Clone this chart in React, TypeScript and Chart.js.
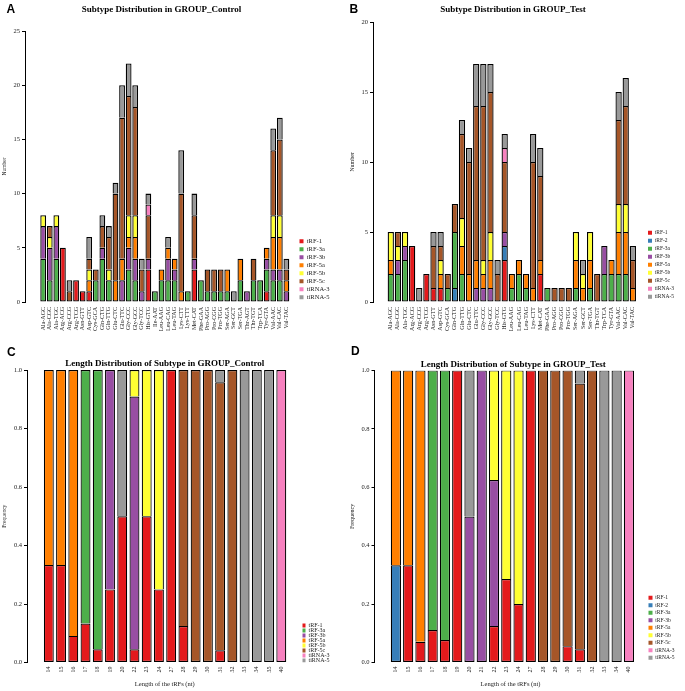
import React, { useEffect, useRef } from 'react';
import { Chart, registerables } from 'chart.js';

Chart.register(...registerables);

const SERIF = "'Liberation Serif', 'Times New Roman', Times, serif";
const SANS = "'Liberation Sans', Arial, Helvetica, sans-serif";

// ---------- subtypes ----------
const subtypeNames = ['tRF-1', 'tRF-2', 'tRF-3a', 'tRF-3b', 'tRF-5a', 'tRF-5b', 'tRF-5c', 'tiRNA-3', 'tiRNA-5'];
const subtypeColors = ['#E41A1C', '#377EB8', '#4DAF4A', '#984EA3', '#FF7F00', '#FFFF33', '#A65628', '#F781BF', '#999999'];

// ---------- Panel A: subtype counts, GROUP_Control ----------
const controlTrnas = ['Ala-AGC', 'Ala-CGC', 'Ala-TGC', 'Arg-ACG', 'Arg-CCG', 'Arg-TCG', 'Asn-GTT', 'Asp-GTC', 'Cys-GCA', 'Gln-CTG',
  'Gln-TTG', 'Glu-CTC', 'Glu-TTC', 'Gly-CCC', 'Gly-GCC', 'Gly-TCC', 'His-GTG', 'Ile-AAT', 'Leu-AAG', 'Leu-CAG',
  'Leu-TAG', 'Lys-CTT', 'Lys-TTT', 'Met-CAT', 'Phe-GAA', 'Pro-AGG', 'Pro-CGG', 'Pro-TGG', 'Ser-AGA', 'Ser-GCT',
  'Ser-TGA', 'Thr-AGT', 'Thr-TGT', 'Trp-TCA', 'Tyr-GTA', 'Val-AAC', 'Val-CAC', 'Val-TAC'];
const ctrlTRF1 = [0, 0, 0, 5, 0, 2, 1, 1, 0, 0, 0, 0, 0, 0, 0, 0, 3, 0, 0, 0, 0, 0, 0, 3, 0, 0, 0, 0, 0, 0, 0, 0, 0, 0, 1, 0, 0, 0];
const ctrlTRF3a = [4, 2, 4, 0, 0, 0, 0, 0, 2, 4, 2, 0, 0, 3, 2, 0, 0, 1, 2, 2, 2, 0, 1, 0, 2, 1, 1, 1, 1, 0, 2, 0, 2, 2, 2, 2, 2, 0];
const ctrlTRF3b = [3, 3, 3, 0, 0, 0, 0, 0, 0, 1, 0, 0, 2, 2, 2, 1, 1, 0, 0, 2, 1, 0, 0, 1, 0, 0, 0, 0, 0, 0, 0, 1, 0, 0, 1, 1, 1, 1];
const ctrlTRF5a = [0, 0, 0, 0, 0, 0, 0, 1, 0, 0, 0, 2, 2, 1, 2, 0, 0, 0, 1, 1, 1, 1, 0, 0, 0, 0, 0, 0, 2, 0, 2, 0, 0, 0, 1, 3, 3, 1];
const ctrlTRF5b = [1, 1, 1, 0, 0, 0, 0, 1, 0, 0, 1, 0, 0, 2, 2, 0, 0, 0, 0, 0, 0, 0, 0, 0, 0, 0, 0, 0, 0, 0, 0, 0, 0, 0, 0, 2, 2, 0];
const ctrlTRF5c = [0, 1, 0, 0, 1, 0, 0, 1, 1, 2, 3, 8, 13, 11, 10, 2, 4, 0, 0, 0, 0, 9, 0, 4, 0, 2, 2, 2, 0, 0, 0, 0, 2, 0, 0, 6, 7, 1];
const ctrlTiRNA3 = [0, 0, 0, 0, 0, 0, 0, 0, 0, 0, 0, 0, 0, 0, 0, 0, 1, 0, 0, 0, 0, 0, 0, 0, 0, 0, 0, 0, 0, 0, 0, 0, 0, 0, 0, 0, 0, 0];
const ctrlTiRNA5 = [0, 0, 0, 0, 1, 0, 0, 2, 0, 1, 1, 1, 3, 3, 2, 1, 1, 0, 0, 1, 0, 4, 0, 2, 0, 0, 0, 0, 0, 1, 0, 0, 0, 0, 0, 2, 2, 1];

// ---------- Panel B: subtype counts, GROUP_Test ----------
const testTrnas = ['Ala-AGC', 'Ala-CGC', 'Ala-TGC', 'Arg-ACG', 'Arg-CCG', 'Arg-TCG', 'Asn-GTT', 'Asp-GTC', 'Cys-GCA', 'Gln-CTG',
  'Gln-TTG', 'Glu-CTC', 'Glu-TTC', 'Gly-CCC', 'Gly-GCC', 'Gly-TCC', 'His-GTG', 'Leu-AAG', 'Leu-CAG', 'Leu-TAG',
  'Lys-CTT', 'Met-CAT', 'Phe-GAA', 'Pro-AGG', 'Pro-CGG', 'Pro-TGG', 'Ser-AGA', 'Ser-GCT', 'Ser-TGA', 'Thr-TGT',
  'Trp-TCA', 'Tyr-GTA', 'Val-AAC', 'Val-CAC', 'Val-TAC'];
const testTRF1 = [0, 0, 0, 4, 0, 2, 1, 1, 0, 0, 0, 0, 0, 0, 0, 0, 3, 0, 0, 0, 0, 2, 0, 0, 0, 0, 0, 0, 0, 0, 0, 0, 0, 0, 0];
const testTRF2 = [0, 0, 0, 0, 0, 0, 0, 0, 0, 1, 0, 0, 0, 0, 0, 0, 1, 0, 0, 0, 0, 0, 0, 0, 0, 0, 0, 0, 0, 0, 0, 0, 0, 0, 0];
const testTRF3a = [2, 2, 3, 0, 0, 0, 0, 0, 1, 4, 2, 0, 0, 0, 0, 0, 0, 1, 2, 1, 0, 0, 1, 0, 0, 0, 1, 0, 1, 0, 2, 2, 2, 2, 0];
const testTRF3b = [0, 1, 1, 0, 0, 0, 0, 0, 0, 0, 0, 0, 1, 1, 1, 0, 1, 0, 0, 0, 0, 0, 0, 0, 0, 0, 0, 0, 0, 0, 2, 0, 0, 0, 0];
const testTRF5a = [1, 0, 0, 0, 0, 0, 0, 1, 0, 0, 2, 2, 2, 1, 2, 0, 0, 1, 1, 1, 1, 1, 0, 0, 0, 0, 2, 1, 2, 0, 0, 1, 3, 3, 1];
const testTRF5b = [2, 1, 1, 0, 0, 0, 0, 1, 0, 0, 2, 0, 0, 1, 2, 0, 0, 0, 0, 0, 0, 0, 0, 0, 0, 0, 2, 1, 2, 0, 0, 0, 2, 2, 0];
const testTRF5c = [0, 1, 0, 0, 0, 0, 3, 1, 1, 2, 6, 8, 11, 11, 10, 2, 5, 0, 0, 0, 9, 6, 0, 1, 1, 1, 0, 0, 0, 2, 0, 0, 6, 7, 2];
const testTiRNA3 = [0, 0, 0, 0, 0, 0, 0, 0, 0, 0, 0, 0, 0, 0, 0, 0, 1, 0, 0, 0, 0, 0, 0, 0, 0, 0, 0, 0, 0, 0, 0, 0, 0, 0, 0];
const testTiRNA5 = [0, 0, 0, 0, 1, 0, 1, 1, 0, 0, 1, 1, 3, 3, 2, 1, 1, 0, 0, 0, 2, 2, 0, 0, 0, 0, 0, 1, 0, 0, 0, 0, 2, 2, 1];

// ---------- Panel C: length distribution, GROUP_Control ----------
const controlLengths = ['14', '15', '16', '17', '18', '19', '20', '22', '23', '24', '27', '28', '29', '30', '31', '32', '33', '34', '35', '40'];
const ctrlLenTRF1 = [0.333, 0.333, 0.091, 0.133, 0.045, 0.25, 0.5, 0.045, 0.5, 0.25, 1, 0.125, 0, 0, 0.042, 0, 0, 0, 0, 0];
const ctrlLenTRF3a = [0, 0, 0, 0.867, 0.955, 0, 0, 0, 0, 0, 0, 0, 0, 0, 0, 0, 0, 0, 0, 0];
const ctrlLenTRF3b = [0, 0, 0, 0, 0, 0.75, 0, 0.864, 0, 0, 0, 0, 0, 0, 0, 0, 0, 0, 0, 0];
const ctrlLenTRF5a = [0.667, 0.667, 0.909, 0, 0, 0, 0, 0, 0, 0, 0, 0, 0, 0, 0, 0, 0, 0, 0, 0];
const ctrlLenTRF5b = [0, 0, 0, 0, 0, 0, 0, 0.091, 0.5, 0.75, 0, 0, 0, 0, 0, 0, 0, 0, 0, 0];
const ctrlLenTRF5c = [0, 0, 0, 0, 0, 0, 0, 0, 0, 0, 0, 0.875, 1, 1, 0.916, 1, 0, 0, 0, 0];
const ctrlLenTiRNA3 = [0, 0, 0, 0, 0, 0, 0, 0, 0, 0, 0, 0, 0, 0, 0, 0, 0, 0, 0, 1];
const ctrlLenTiRNA5 = [0, 0, 0, 0, 0, 0, 0.5, 0, 0, 0, 0, 0, 0, 0, 0.042, 0, 1, 1, 1, 0];

// ---------- Panel D: length distribution, GROUP_Test ----------
const testLengths = ['14', '15', '16', '17', '18', '19', '20', '21', '22', '23', '24', '27', '28', '29', '30', '31', '32', '33', '34', '40'];
const testLenTRF1 = [0, 0.333, 0.071, 0.111, 0.077, 1, 0, 0, 0.125, 0.286, 0.2, 1, 0, 0, 0.056, 0.045, 0, 0, 0, 0];
const testLenTRF2 = [0.333, 0, 0, 0, 0, 0, 0, 0, 0, 0, 0, 0, 0, 0, 0, 0, 0, 0, 0, 0];
const testLenTRF3a = [0, 0, 0, 0.889, 0.923, 0, 0, 0, 0, 0, 0, 0, 0, 0, 0, 0, 0, 0, 0, 0];
const testLenTRF3b = [0, 0, 0, 0, 0, 0, 0.5, 1, 0.5, 0, 0, 0, 0, 0, 0, 0, 0, 0, 0, 0];
const testLenTRF5a = [0.667, 0.667, 0.929, 0, 0, 0, 0, 0, 0, 0, 0, 0, 0, 0, 0, 0, 0, 0, 0, 0];
const testLenTRF5b = [0, 0, 0, 0, 0, 0, 0, 0, 0.375, 0.714, 0.8, 0, 0, 0, 0, 0, 0, 0, 0, 0];
const testLenTRF5c = [0, 0, 0, 0, 0, 0, 0, 0, 0, 0, 0, 0, 1, 1, 0.944, 0.91, 1, 0, 0, 0];
const testLenTiRNA3 = [0, 0, 0, 0, 0, 0, 0, 0, 0, 0, 0, 0, 0, 0, 0, 0, 0, 0, 0, 1];
const testLenTiRNA5 = [0, 0, 0, 0, 0, 0, 0.5, 0, 0, 0, 0, 0, 0, 0, 0, 0.045, 0, 1, 1, 0];

// ---------- helpers ----------
type Series = { name: string; color: string; values: number[] };
const ser = (idx: number, values: number[]): Series => ({ name: subtypeNames[idx], color: subtypeColors[idx], values });

interface PanelSpec {
  left: number; top: number; width: number; height: number;
  title: string; titleFull: boolean; titlePadTop: number; titlePadBottom: number;
  categories: string[]; series: Series[];
  yMax: number; yStep: number; yDecimals: number; yTitle: string; yTitleSize: number; yTitlePad: number;
  xTitle?: string;
  axisWidth: number; axisHeight: number; chartRight: number;
  xMin: number; xMax: number; barPct: number; xTickPad: number; barEdge: number;
  legendSize: number; legendPad: number;
}

const BAR_EDGE = '#000';
const TEXT = '#222';
const LEGEND_BOX = 4;

const panelA: PanelSpec = {
  left: 0, top: 0, width: 342, height: 340,
  title: 'Subtype Distribution in GROUP_Control', titleFull: false, titlePadTop: 4.6, titlePadBottom: 15.6,
  categories: controlTrnas,
  series: [ser(0, ctrlTRF1), ser(2, ctrlTRF3a), ser(3, ctrlTRF3b), ser(4, ctrlTRF5a), ser(5, ctrlTRF5b), ser(6, ctrlTRF5c), ser(7, ctrlTiRNA3), ser(8, ctrlTiRNA5)],
  yMax: 25, yStep: 5, yDecimals: 0, yTitle: 'Number', yTitleSize: 5.5, yTitlePad: 1.4,
  axisWidth: 25, axisHeight: 38, chartRight: 298,
  xMin: -2.22, xMax: 38.22, barPct: 0.88, xTickPad: 5, barEdge: 1.3,
  legendSize: 6.5, legendPad: 1.5,
};

const panelB: PanelSpec = {
  left: 342, top: 0, width: 343, height: 340,
  title: 'Subtype Distribution in GROUP_Test', titleFull: true, titlePadTop: 4.1, titlePadBottom: 7.1,
  categories: testTrnas,
  series: [ser(0, testTRF1), ser(1, testTRF2), ser(2, testTRF3a), ser(3, testTRF3b), ser(4, testTRF5a), ser(5, testTRF5b), ser(6, testTRF5c), ser(7, testTiRNA3), ser(8, testTiRNA5)],
  yMax: 20, yStep: 5, yDecimals: 0, yTitle: 'Number', yTitleSize: 6, yTitlePad: 7.1,
  axisWidth: 31, axisHeight: 38, chartRight: 303.5,
  xMin: -1.95, xMax: 35.23, barPct: 0.88, xTickPad: 5, barEdge: 1.3,
  legendSize: 5.5, legendPad: 2.5,
};

const panelC: PanelSpec = {
  left: 0, top: 345, width: 342, height: 346,
  title: 'Length Distribution of Subtype in GROUP_Control', titleFull: false, titlePadTop: 13.6, titlePadBottom: 0.6,
  categories: controlLengths,
  series: [ser(0, ctrlLenTRF1), ser(2, ctrlLenTRF3a), ser(3, ctrlLenTRF3b), ser(4, ctrlLenTRF5a), ser(5, ctrlLenTRF5b), ser(6, ctrlLenTRF5c), ser(7, ctrlLenTiRNA3), ser(8, ctrlLenTiRNA5)],
  yMax: 1, yStep: 0.2, yDecimals: 1, yTitle: 'Frequency', yTitleSize: 5.5, yTitlePad: 1.4,
  xTitle: 'Length of the tRFs (nt)',
  axisWidth: 27, axisHeight: 28.5, chartRight: 302.5,
  xMin: -1.22, xMax: 20.17, barPct: 0.81, xTickPad: 4, barEdge: 1.2,
  legendSize: 6, legendPad: -1,
};

const panelD: PanelSpec = {
  left: 342, top: 345, width: 343, height: 346,
  title: 'Length Distribution of Subtype in GROUP_Test', titleFull: true, titlePadTop: 14.1, titlePadBottom: 0.5,
  categories: testLengths,
  series: [ser(0, testLenTRF1), ser(1, testLenTRF2), ser(2, testLenTRF3a), ser(3, testLenTRF3b), ser(4, testLenTRF5a), ser(5, testLenTRF5b), ser(6, testLenTRF5c), ser(7, testLenTiRNA3), ser(8, testLenTiRNA5)],
  yMax: 1, yStep: 0.2, yDecimals: 1, yTitle: 'Frequency', yTitleSize: 6, yTitlePad: 6.9,
  xTitle: 'Length of the tRFs (nt)',
  axisWidth: 32.5, axisHeight: 28.5, chartRight: 304.5,
  xMin: -1.19, xMax: 19.88, barPct: 0.83, xTickPad: 4, barEdge: 1.2,
  legendSize: 5.5, legendPad: 2,
};

function buildConfig(spec: PanelSpec): any {
  const values = spec.series.map((s) => s.values);
  const mctx = document.createElement('canvas').getContext('2d')!;
  mctx.font = `${spec.legendSize}px ${SERIF}`;
  const maxText = Math.max(...spec.series.map((s) => mctx.measureText(s.name).width));
  const legendW = spec.legendPad + LEGEND_BOX + spec.legendSize / 2 + maxText + 10;
  let padRight = spec.width - spec.chartRight - legendW;
  let legendMax: number | undefined = undefined;
  if (padRight < 0) { legendMax = spec.width - spec.chartRight; padRight = 0; }

  const datasets = spec.series.map((s, d) => ({
    label: s.name,
    data: s.values.map((v, i) => ({ x: i, y: v > 0 ? v : null })),
    backgroundColor: s.color,
    borderColor: BAR_EDGE,
    borderWidth: spec.barEdge,
    borderSkipped: (c: any) => {
      if (!c || c.type !== 'data') return false;
      for (let k = 0; k < d; k++) if (values[k][c.dataIndex] > 0) return 'start';
      return false;
    },
    stack: 'total',
    barPercentage: spec.barPct,
    categoryPercentage: 1,
  }));

  const tickFont = { family: SERIF, size: 6 };

  return {
    type: 'bar',
    data: { datasets },
    options: {
      responsive: false,
      animation: false,
      events: [],
      layout: { padding: { left: 0, top: 0, bottom: 0, right: padRight } },
      plugins: {
        tooltip: { enabled: false },
        title: {
          display: true,
          text: spec.title,
          fullSize: spec.titleFull,
          color: '#000',
          font: { family: SERIF, size: 9, weight: 'bold' },
          padding: { top: spec.titlePadTop, bottom: spec.titlePadBottom },
        },
        legend: {
          display: true,
          position: 'right',
          align: 'end',
          fullSize: false,
          maxWidth: legendMax,
          labels: {
            boxWidth: LEGEND_BOX,
            boxHeight: LEGEND_BOX,
            padding: spec.legendPad,
            color: TEXT,
            font: { family: SERIF, size: spec.legendSize },
            generateLabels: (chart: any) =>
              Chart.defaults.plugins.legend.labels.generateLabels(chart).map((l: any) => ({ ...l, lineWidth: 0, strokeStyle: l.fillStyle })),
          },
        },
      },
      scales: {
        x: {
          type: 'linear',
          min: spec.xMin,
          max: spec.xMax,
          grid: { display: false, drawTicks: false },
          border: { display: false },
          ticks: {
            autoSkip: false,
            minRotation: 90,
            maxRotation: 90,
            padding: spec.xTickPad,
            color: TEXT,
            font: tickFont,
            callback: (v: any) => spec.categories[v] ?? '',
          },
          afterBuildTicks: (s: any) => { s.ticks = spec.categories.map((_, i) => ({ value: i })); },
          afterFit: (s: any) => { s.height = spec.axisHeight; },
          title: spec.xTitle
            ? { display: true, text: spec.xTitle, color: TEXT, font: { family: SERIF, size: 6.5 }, padding: { top: 0, bottom: 3 } }
            : { display: false },
        },
        y: {
          stacked: true,
          min: 0,
          max: spec.yMax,
          grid: { drawOnChartArea: false, drawTicks: true, tickLength: 3, color: '#000', lineWidth: 1 },
          border: { display: true, color: '#000', width: 1 },
          ticks: {
            stepSize: spec.yStep,
            padding: 2,
            color: TEXT,
            font: { family: SERIF, size: 6.5 },
            callback: (v: any) => Number(v).toFixed(spec.yDecimals),
          },
          afterFit: (s: any) => { s.width = spec.axisWidth; },
          title: {
            display: true,
            text: spec.yTitle,
            color: TEXT,
            font: { family: SERIF, size: spec.yTitleSize },
            padding: { top: spec.yTitlePad, bottom: 0 },
          },
        },
      },
    },
  };
}

function Panel({ spec }: { spec: PanelSpec }) {
  const ref = useRef<HTMLCanvasElement>(null);
  useEffect(() => {
    let chart: Chart | null = null;
    try {
      chart = new Chart(ref.current as HTMLCanvasElement, buildConfig(spec));
    } catch (e) {
      console.error(e);
    }
    return () => { if (chart) chart.destroy(); };
  }, [spec]);
  return (
    <div style={{ position: 'absolute', left: spec.left, top: spec.top, width: spec.width, height: spec.height }}>
      <canvas ref={ref} width={spec.width} height={spec.height} style={{ width: spec.width, height: spec.height, display: 'block' }} />
    </div>
  );
}

const letterStyle = (left: number, top: number): React.CSSProperties => ({
  position: 'absolute', left, top, fontFamily: SANS, fontWeight: 'bold', fontSize: 12, lineHeight: '12px', color: '#000',
});

export default function App() {
  return (
    <div style={{ position: 'absolute', left: 0, top: 0, width: 685, height: 691, background: '#fff', overflow: 'hidden' }}>
      <Panel spec={panelA} />
      <Panel spec={panelB} />
      <Panel spec={panelC} />
      <Panel spec={panelD} />
      <div style={letterStyle(6.5, 3.4)}>A</div>
      <div style={letterStyle(349.5, 3.4)}>B</div>
      <div style={letterStyle(7, 345.7)}>C</div>
      <div style={letterStyle(351, 345.1)}>D</div>
    </div>
  );
}
